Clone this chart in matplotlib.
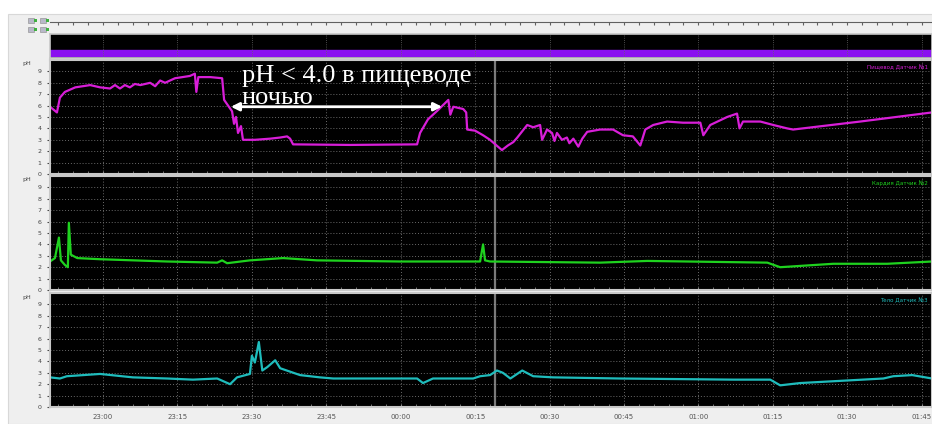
import matplotlib
matplotlib.use("Agg")
import matplotlib.pyplot as plt
import matplotlib.patches as mpatches
import numpy as np

W, H = 932, 424

# time in minutes after 23:00, pH values
eso_t = [-10.7, -9.3, -8.7, -7.7, -5.6, -2.6, -0.6, 1.4, 2.4, 3.4, 4.4, 5.4, 6.4, 7.5, 9.5,
         10.5, 11.5, 12.5, 14.5, 17.5,
         18.5, 18.8, 19.2, 21.6, 24.0, 24.4, 25.2, 26.0, 26.4, 26.8, 27.2, 27.8, 28.2, 30.6,
         33.7, 35.7, 37.1, 37.7, 38.3, 49.8, 63.3, 63.9, 65.5, 67.5, 69.6, 70.0, 70.6, 72.6,
         73.2, 73.4, 75.0, 76.6, 78.0, 80.4, 81.6, 82.7, 83.5, 85.5, 86.7, 88.1, 88.5, 89.5,
         90.5, 91.0, 91.5, 92.5, 93.5, 94.0, 94.8, 95.8, 96.6, 97.6, 100.2, 102.8, 104.8,
         106.8, 108.3, 109.3, 110.9, 113.7, 116.9, 120.4, 121.0, 122.4, 125.8, 127.8, 128.3,
         129.0, 132.5, 135.1, 137.9, 139.1, 152.6, 167.1]
eso_ph = [5.9, 5.4, 6.7, 7.2, 7.6, 7.8, 7.6, 7.5, 7.8, 7.5, 7.8, 7.6, 7.9, 7.8, 8.0,
          7.7, 8.2, 8.0, 8.4, 8.6,
          8.8, 7.2, 8.5, 8.5, 8.4, 6.5, 6.0, 5.5, 4.4, 5.0, 3.6, 4.2, 3.0, 3.0,
          3.1, 3.2, 3.3, 3.1, 2.6, 2.55, 2.6, 3.6, 4.8, 5.6, 6.5, 5.2, 5.9, 5.7,
          5.4, 3.9, 3.8, 3.4, 3.0, 2.1, 2.5, 2.8, 3.2, 4.3, 4.1, 4.3, 3.0, 3.9,
          3.6, 2.9, 3.6, 3.0, 3.2, 2.7, 3.1, 2.4, 3.1, 3.7, 3.9, 3.9, 3.4,
          3.3, 2.5, 3.9, 4.3, 4.6, 4.5, 4.5, 3.4, 4.3, 5.0, 5.3, 4.0,
          4.6, 4.6, 4.3, 4.0, 3.9, 4.6, 5.4]

card_t = [-10.7, -9.7, -9.3, -8.9, -8.5, -7.7, -7.1, -6.9, -6.5, -5.2, -0.6, 12.9, 23.0, 24.0,
          25.0, 29.6, 36.3, 43.1, 59.9, 76.0, 76.6, 77.0, 78.0, 100.2, 109.7, 133.9, 136.5,
          147.2, 158.1, 167.1]
card_ph = [2.5, 2.8, 3.7, 4.6, 2.6, 2.2, 2.0, 5.9, 3.1, 2.8, 2.7, 2.5, 2.4, 2.6,
           2.35, 2.6, 2.8, 2.6, 2.5, 2.5, 4.0, 2.6, 2.5, 2.4, 2.55, 2.4, 2.0,
           2.3, 2.3, 2.5]

body_t = [-10.7, -8.7, -7.3, -0.6, 6.0, 12.9, 18.1, 23.0, 25.6, 27.0, 29.6, 30.0, 30.6, 31.4,
          32.1, 33.1, 34.7, 35.7, 37.7, 39.7, 43.7, 46.4, 63.3, 64.5, 66.5, 74.6, 76.0, 78.0,
          79.4, 80.6, 82.1, 84.5, 86.7, 90.7, 104.2, 127.0, 134.5, 136.5, 140.5, 157.3, 159.3,
          163.1, 167.1]
body_ph = [2.6, 2.5, 2.7, 2.9, 2.6, 2.5, 2.4, 2.5, 2.0, 2.6, 2.9, 4.5, 3.9, 5.7,
           3.2, 3.5, 4.1, 3.4, 3.1, 2.8, 2.6, 2.5, 2.5, 2.1, 2.5, 2.5, 2.7, 2.8,
           3.2, 3.0, 2.5, 3.2, 2.7, 2.6, 2.5, 2.4, 2.4, 1.9, 2.1, 2.5, 2.7,
           2.8, 2.5]

tick_min = [0, 15, 30, 45, 60, 75, 90, 105, 120, 135, 150, 165]
tick_lbl = ["23:00", "23:15", "23:30", "23:45", "00:00", "00:15", "00:30", "00:45",
            "01:00", "01:15", "01:30", "01:45"]
event_min = 79.0

panels = [
    (eso_t, eso_ph, "#d81ed8", "Пищевод Датчик №1", 60, 174),
    (card_t, card_ph, "#1fd21f", "Кардия Датчик №2", 176, 290),
    (body_t, body_ph, "#1fbcbc", "Тело Датчик №3", 293, 407),
]
x0, x1 = -10.7, 167.1


def px_rect(left, top, right, bottom):
    return [left / W, 1 - bottom / H, (right - left) / W, (bottom - top) / H]


fig = plt.figure(figsize=(W / 100, H / 100), dpi=100)
fig.patch.set_facecolor("white")
fig.patches.append(mpatches.Rectangle((8 / W, 0), 1, (H - 14) / H, transform=fig.transFigure,
                                      facecolor="#efefef", edgecolor="#d8d8d8", lw=0.8,
                                      zorder=-10))

# little icons and time strip on top
for ix in [28, 40]:
    for iy in [18, 27]:
        fig.patches.append(mpatches.Rectangle((ix / W, 1 - (iy + 5) / H), 6 / W, 5 / H,
                                              transform=fig.transFigure, facecolor="#b8b8c8",
                                              edgecolor="#888888", lw=0.4, zorder=-5))
        fig.patches.append(mpatches.Rectangle(((ix + 6) / W, 1 - (iy + 4) / H), 3 / W, 3 / H,
                                              transform=fig.transFigure, facecolor="#40b040",
                                              zorder=-5))
strip = fig.add_axes(px_rect(50, 22, W, 25))
strip.set_xlim(x0, x1)
strip.set_facecolor("#efefef")
for s in ["left", "right", "bottom"]:
    strip.spines[s].set_visible(False)
strip.spines["top"].set_color("#606060")
strip.set_xticks(np.arange(-9, 168, 3))
strip.tick_params(axis="x", top=True, bottom=False, direction="in", length=2, color="#606060",
                  labelbottom=False)
strip.set_yticks([])

band = fig.add_axes(px_rect(50, 34, W, 58))
band.set_facecolor("black")
band.set_xlim(x0, x1)
band.set_ylim(0, 1)
band.axhspan(0.1, 0.33, color="#8a10f0")
for m in tick_min:
    band.axvline(m, color="#666666", lw=0.6, ls=":")
band.set_xticks([])
band.set_yticks([])
for s in band.spines.values():
    s.set_color("#c8c8c8")
    s.set_linewidth(1.2)

axes = []
for i, (t, ph, col, name, top, bot) in enumerate(panels):
    ax = fig.add_axes(px_rect(50, top, W, bot))
    ax.set_facecolor("black")
    ax.set_xlim(x0, x1)
    ax.set_ylim(0, 10)
    for yv in range(1, 10):
        ax.axhline(yv, color="#6a6a6a", lw=0.7, ls=(0, (1, 2)))
    for m in tick_min:
        ax.axvline(m, color="#6a6a6a", lw=0.7, ls=(0, (1, 2)))
    ax.axvline(event_min, color="#9a9a9a", lw=1.6, alpha=0.8)
    ax.plot(t, ph, color=col, lw=1.6)
    ax.set_yticks(range(0, 10))
    ax.set_yticklabels([str(v) for v in range(0, 10)])
    ax.tick_params(axis="y", labelsize=4.5, length=2, colors="#444444", pad=4)
    ax.set_xticks(tick_min)
    ax.set_xticks(np.arange(-9, 168, 3), minor=True)
    ax.tick_params(axis="x", which="both", direction="in", length=2, color="#888888")
    if i < 2:
        ax.set_xticklabels([])
    else:
        ax.set_xticklabels(tick_lbl)
        ax.tick_params(axis="x", labelsize=5, labelcolor="#555555", pad=5)
    for s in ax.spines.values():
        s.set_color("#c8c8c8")
        s.set_linewidth(1.5)
    ax.text(0.995, 0.96, name, transform=ax.transAxes, color=col, fontsize=4,
            ha="right", va="top")
    fig.text(22 / W, 1 - (top + 4) / H, "pH", fontsize=4.5, color="#444444", va="center")
    axes.append(ax)

ax1 = axes[0]
ax1.annotate("", xy=(25.2, 5.9), xytext=(68.9, 5.9),
             arrowprops=dict(arrowstyle="<|-|>", color="white", lw=2, mutation_scale=12))
ax1.text(28.0, 9.6, "pH < 4.0 в пищеводе", color="white", fontsize=19,
         family="Liberation Serif", va="top", ha="left")
ax1.text(28.0, 7.6, "ночью", color="white", fontsize=19,
         family="Liberation Serif", va="top", ha="left")

fig.savefig("out.png", dpi=100)
